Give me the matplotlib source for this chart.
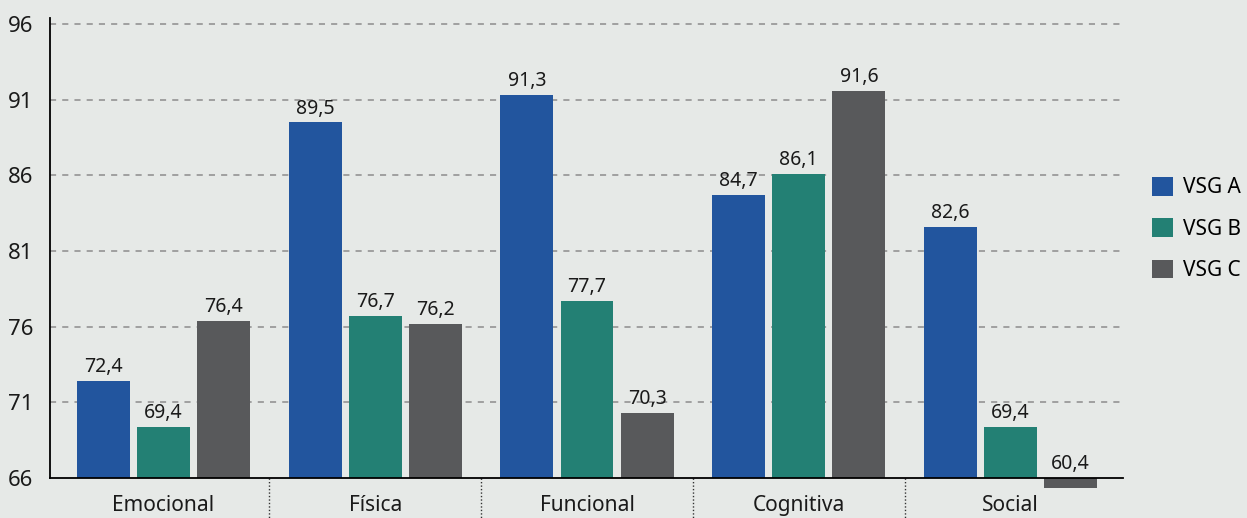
import matplotlib.pyplot as plt
import numpy as np

categories = ['Emocional', 'Física', 'Funcional', 'Cognitiva', 'Social']
series_names = ['VSG A', 'VSG B', 'VSG C']
vsg_a = [72.4, 89.5, 91.3, 84.7, 82.6]
vsg_b = [69.4, 76.7, 77.7, 86.1, 69.4]
vsg_c = [76.4, 76.2, 70.3, 91.6, 60.4]
yticks = [66, 71, 76, 81, 86, 91, 96]

colors = ['#22559e', '#238074', '#58595b']
bg = '#e6e9e7'
base = 66

plt.rcParams['font.family'] = ['Noto Sans', 'DejaVu Sans']

fig = plt.figure(figsize=(12.47, 5.18), dpi=100, facecolor=bg)
ax = fig.add_axes([50 / 1247, 30 / 518, 1073 / 1247, 470 / 518])
ax.set_facecolor(bg)

x = np.arange(len(categories))
width = 0.25
step = 0.284
for i, (name, vals) in enumerate(zip(series_names, [vsg_a, vsg_b, vsg_c])):
    pos = x + (i - 1) * step
    heights = [v - base for v in vals]
    ax.bar(pos, heights, width, bottom=base, color=colors[i], label=name,
           zorder=2)
    for p, v in zip(pos, vals):
        ax.text(p, max(v, base) + 0.25, f'{v:.1f}'.replace('.', ','),
                ha='center', va='bottom', fontsize=14, color='#1a1a1a')

for s in ['top', 'right']:
    ax.spines[s].set_visible(False)
ax.spines['bottom'].set_position(('data', base))
ax.spines['left'].set_bounds(base, 96.4)
ax.spines['left'].set_linewidth(1.3)
ax.spines['bottom'].set_linewidth(1.3)
ax.spines['left'].set_zorder(3)
ax.spines['bottom'].set_zorder(3)

ax.set_ylim(65.34, 96.4)
ax.set_xlim(-0.536, 4.531)

ax.set_yticks(yticks)
ax.set_yticklabels([str(t) for t in yticks])
for t in yticks[1:]:
    ax.axhline(t, color='#8c8c8c', linestyle=(0, (4, 4)), linewidth=1.1,
               zorder=1)

ax.set_xticks(x)
ax.set_xticklabels(categories)
ax.tick_params(axis='both', length=0, labelcolor='#1a1a1a')
ax.tick_params(axis='y', pad=12, labelsize=16)
ax.tick_params(axis='x', pad=12, labelsize=15)

# dotted separators under the axis between categories
for b in x[:-1] + 0.5:
    ax.plot([b, b], [base, base - 3], color='#333333', linestyle=(0, (1, 1.5)),
            linewidth=1, clip_on=False, zorder=3)

ax.legend(loc='center left', bbox_to_anchor=(1152 / 1247, 1 - 229 / 518),
          bbox_transform=fig.transFigure, frameon=False, fontsize=15,
          handlelength=1.0, handleheight=1.0, handletextpad=0.5,
          labelspacing=0.95, borderaxespad=0, borderpad=0)

fig.savefig('out.png', dpi=100, facecolor=bg)
